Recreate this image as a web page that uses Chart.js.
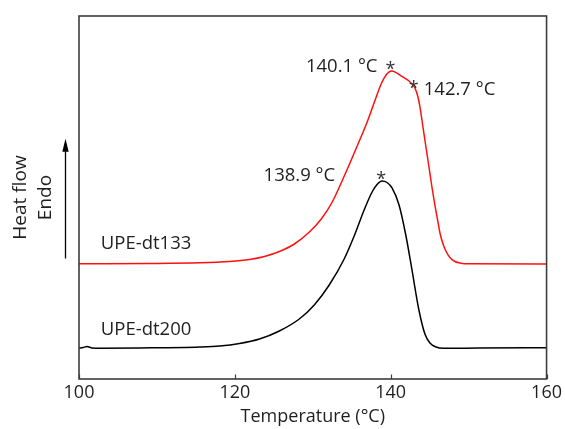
<!DOCTYPE html>
<html>
<head>
<meta charset="utf-8">
<script src="https://cdn.jsdelivr.net/npm/chart.js@4.4.1/dist/chart.umd.min.js"></script>
<style>
html,body{margin:0;padding:0;background:#fff;}
#wrap{width:565px;height:429px;position:relative;}
</style>
</head>
<body>
<div id="wrap"><canvas id="c" width="565" height="429"></canvas></div>
<script>
// ---- data (heat flow in arbitrary units) ----
const tempDt133 = [100,109.08,115.48,119.32,121.88,123.80,125.72,127.64,129.56,131.09,132.50,134.04,135.70,136.98,138.00,138.77,139.41,140.11,140.64,141.49,142.35,142.73,143.11,143.50,143.82,144.14,144.52,144.91,145.29,145.67,145.99,146.38,146.76,147.08,147.59,148.23,149.00,150.02,160];
const flowDt133 = [3.176,3.182,3.201,3.237,3.292,3.375,3.512,3.719,4.050,4.408,4.876,5.592,6.419,7.080,7.686,8.127,8.375,8.485,8.449,8.328,8.209,8.127,8.017,7.769,7.410,6.942,6.391,5.840,5.289,4.793,4.408,3.967,3.691,3.526,3.347,3.237,3.190,3.174,3.168];
const tempDt200 = [100,100.51,101.02,101.66,102.69,107.80,115.48,118.04,120.60,123.16,125.71,128.27,130.19,132.11,134.03,135.31,136.59,137.61,138.25,138.89,139.53,140.17,141.07,141.96,142.73,143.62,144.39,145.03,145.80,146.82,151.30,160];
const flowDt200 = [0.846,0.865,0.893,0.857,0.846,0.854,0.882,0.909,0.978,1.102,1.322,1.653,2.039,2.590,3.306,3.939,4.656,5.152,5.358,5.455,5.413,5.262,4.793,3.939,3.003,1.901,1.240,0.992,0.882,0.846,0.854,0.862];
const seriesNames = ["UPE-dt133","UPE-dt200"];
const xTicks = [100,120,140,160];
const peakTemps = [140.1, 142.7, 138.9];
const peakFlows = [8.485, 8.127, 5.455];
const peakLabels = ["140.1 °C","142.7 °C","138.9 °C"];
const xTitle = "Temperature (°C)";
const yTitle = ["Heat flow","Endo"];

const FONT = "'Open Sans', 'DejaVu Sans', sans-serif";
const TXT = "#1f1f1f";

function pts(t, v){ return t.map((x,i)=>({x:x, y:v[i]})); }

// label offsets (style, not data)
const peakStyle = [
  {lx:-14, ly:1, align:'right', sx:-1, sy:4},
  {lx:12, ly:11, align:'left', sx:2, sy:10},
  {lx:-47, ly:0, align:'right', sx:-1, sy:4}
];
const seriesLabelY = [3.58, 1.21];

const decor = {
  id:'decor',
  afterDatasetsDraw(chart){
    const {ctx, chartArea:a, scales:{x, y}} = chart;
    ctx.save();
    // frame
    ctx.strokeStyle = '#3c3c3c';
    ctx.lineWidth = 1.6;
    ctx.strokeRect(a.left, a.top, a.right-a.left, a.bottom-a.top);
    // inward ticks
    ctx.lineWidth = 1.2;
    xTicks.forEach(t=>{
      const px = Math.round(x.getPixelForValue(t))+0.5;
      ctx.beginPath(); ctx.moveTo(px, a.bottom); ctx.lineTo(px, a.bottom-4.5); ctx.stroke();
    });
    // peak annotations
    ctx.textBaseline = 'alphabetic';
    peakTemps.forEach((t,i)=>{
      const px = x.getPixelForValue(t), py = y.getPixelForValue(peakFlows[i]);
      const s = peakStyle[i];
      ctx.fillStyle = '#333';
      ctx.textAlign = 'center';
      ctx.font = "18px " + FONT;
      ctx.fillText('*', px + s.sx, py + s.sy);
      ctx.fillStyle = TXT;
      ctx.font = "18.5px " + FONT;
      ctx.textAlign = s.align;
      ctx.fillText(peakLabels[i], px + s.lx, py + s.ly);
    });
    // series labels
    ctx.textAlign = 'left';
    ctx.fillStyle = TXT;
    ctx.font = "18.5px " + FONT;
    seriesNames.forEach((n,i)=>{
      ctx.fillText(n, x.getPixelForValue(102.8), y.getPixelForValue(seriesLabelY[i]));
    });
    // arrow
    const ax = 65.5, y0 = y.getPixelForValue(3.32), y1 = y.getPixelForValue(6.62);
    ctx.strokeStyle = '#000'; ctx.fillStyle = '#000'; ctx.lineWidth = 1.3;
    ctx.beginPath(); ctx.moveTo(ax, y0); ctx.lineTo(ax, y1+10); ctx.stroke();
    ctx.beginPath(); ctx.moveTo(ax, y1); ctx.lineTo(ax-3.2, y1+13); ctx.lineTo(ax+3.2, y1+13); ctx.closePath(); ctx.fill();
    ctx.restore();
  }
};

new Chart(document.getElementById('c'), {
  type:'line',
  data:{
    datasets:[
      {label:seriesNames[0], data:pts(tempDt133, flowDt133), borderColor:'#ff1010', borderWidth:1.5, pointRadius:0, cubicInterpolationMode:'monotone', fill:false},
      {label:seriesNames[1], data:pts(tempDt200, flowDt200), borderColor:'#000000', borderWidth:1.5, pointRadius:0, cubicInterpolationMode:'monotone', fill:false}
    ]
  },
  options:{
    responsive:false, animation:false,
    layout:{padding:{left:0, right:17, top:16, bottom:0}},
    plugins:{legend:{display:false}, tooltip:{enabled:false}},
    scales:{
      x:{
        type:'linear', min:100, max:160,
        afterBuildTicks(s){ s.ticks = xTicks.map(v=>({value:v})); },
        afterFit(s){ s.height = 50; },
        grid:{display:false, drawTicks:false},
        border:{display:false},
        ticks:{color:TXT, padding:3, font:{family:FONT, size:18}, maxRotation:0},
        title:{display:true, text:xTitle, color:TXT, font:{family:FONT, size:18, lineHeight:1.2}, padding:{top:0,bottom:1}}
      },
      y:{
        type:'linear', min:0, max:10,
        afterFit(s){ s.width = 79; },
        grid:{display:false, drawTicks:false},
        border:{display:false},
        ticks:{display:false},
        title:{display:true, text:yTitle, color:TXT, font:{family:FONT, size:19, lineHeight:1.32}, padding:{top:8, bottom:0}}
      }
    }
  },
  plugins:[decor]
});
</script>
</body>
</html>
